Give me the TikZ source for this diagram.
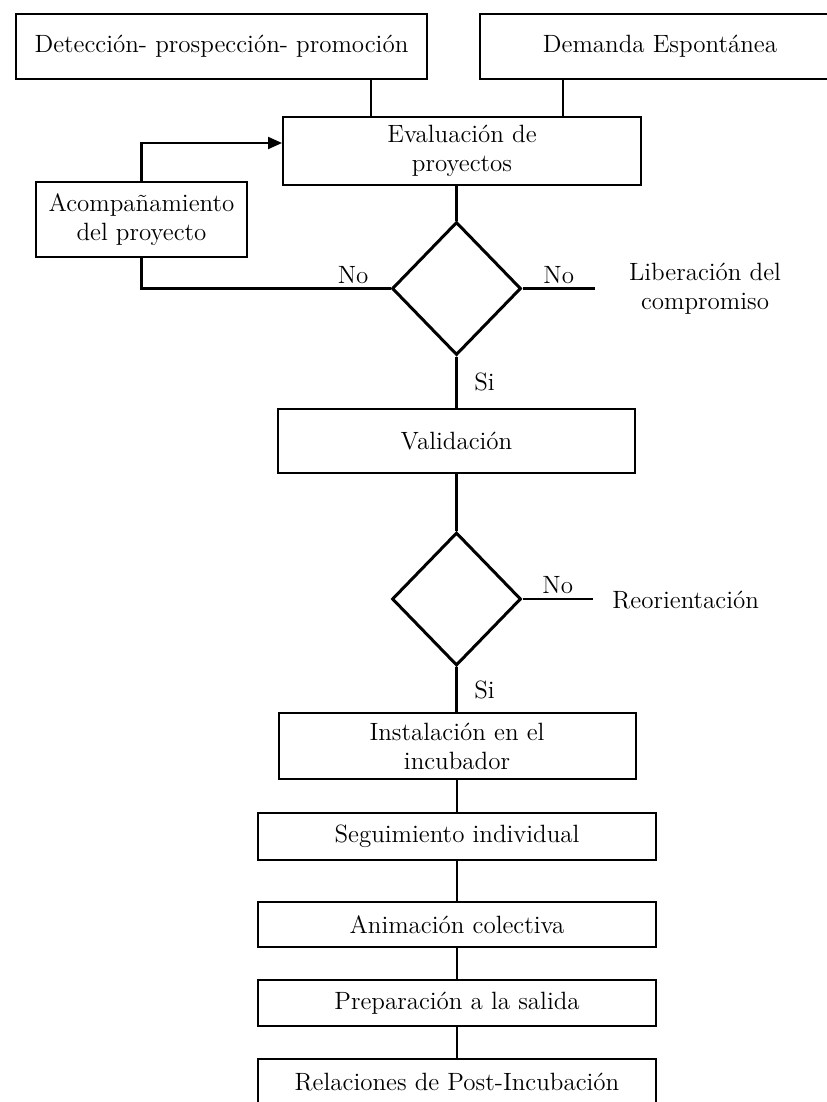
\documentclass[tikz,border=0pt]{standalone}
\usepackage{tikz}
\usetikzlibrary{shapes.geometric,arrows.meta,positioning,calc}

\tikzset{
    box/.style={draw, line width=1pt, rectangle, align=center, inner sep=2pt},
    decision/.style={draw, line width=1.5pt, diamond, aspect=1, inner sep=0pt,
        minimum width=64.5pt, minimum height=66.5pt},
    link/.style={line width=1.1pt},
    lbl/.style={inner sep=2pt, align=center},
}

\begin{document}
\begin{tikzpicture}[x=0.5pt, y=-0.5pt, font=\fontsize{12.5}{14.5}\selectfont]
    \useasboundingbox (0,0) rectangle (826,1102);

    \node[box, minimum width=205.5pt, minimum height=32.5pt] (det) at (221.5,46.5) {Detección- prospección- promoción};
    \node[box, minimum width=180pt, minimum height=32.5pt] (dem) at (660,46.5) {Demanda Espontánea};
    \node[box, minimum width=179pt, minimum height=34pt] (eval) at (462,151) {Evaluación de\\proyectos};
    \node[box, minimum width=105.5pt, minimum height=37.5pt] (acomp) at (141.5,219.5) {Acompañamiento\\del proyecto};
    \node[decision] (dec1) at (456.5,288.5) {};
    \node[lbl] (lib) at (705,289) {Liberación del\\compromiso};
    \node[box, minimum width=178.5pt, minimum height=32pt] (val) at (456.5,441) {Validación};
    \node[decision] (dec2) at (456.5,599) {};
    \node[lbl, anchor=west] (reor) at (608,600) {Reorientación};
    \node[box, minimum width=178.5pt, minimum height=33pt] (inst) at (457,746) {Instalación en el\\incubador};
    \node[box, minimum width=199pt, minimum height=23.5pt] (seg) at (457,836.5) {Seguimiento individual};
    \node[box, minimum width=199pt, minimum height=22.5pt] (anim) at (457,924.5) {Animación colectiva};
    \node[box, minimum width=199pt, minimum height=23pt] (prep) at (457,1003) {Preparación a la salida};
    \node[box, minimum width=199pt, minimum height=23pt] (rel) at (457,1082) {Relaciones de Post-Incubación};

    \coordinate (dx) at (371,0);
    \coordinate (mx) at (563,0);
    \coordinate (libend) at (595,288.5);
    \coordinate (reorend) at (593,599);

    \draw[link] (det.south -| dx) -- (eval.north -| dx);
    \draw[link] (dem.south -| mx) -- (eval.north -| mx);
    \draw[link, -{Triangle[length=7pt, width=6pt]}] (acomp.north) |- ([yshift=4pt]eval.west);
    \draw[link] (acomp.south) |- (dec1.west) node[pos=0.925, above, lbl] {No};
    \draw[link] (eval.south -| dec1.north) -- (dec1.north);
    \draw[link] (dec1.east) -- (libend) node[midway, above, lbl] {No};
    \draw[link] (dec1.south) -- (val.north -| dec1.south) node[midway, right=5pt] {Si};
    \draw[link] (val.south -| dec2.north) -- (dec2.north);
    \draw[link] (dec2.east) -- (reorend) node[midway, above, lbl] {No};
    \draw[link] (dec2.south) -- (inst.north -| dec2.south) node[midway, right=5pt] {Si};
    \draw[link] (inst) -- (seg);
    \draw[link] (seg) -- (anim);
    \draw[link] (anim) -- (prep);
    \draw[link] (prep) -- (rel);
\end{tikzpicture}
\end{document}
